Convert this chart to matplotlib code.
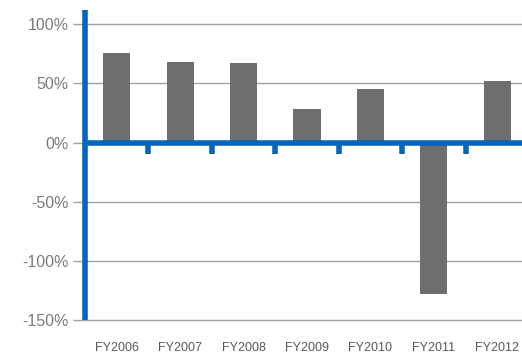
import numpy as np
import matplotlib.pyplot as plt

plt.rcParams['font.family'] = ['Liberation Sans', 'DejaVu Sans']

years = ['FY2006', 'FY2007', 'FY2008', 'FY2009', 'FY2010', 'FY2011', 'FY2012']
growth = [76, 68, 67, 28, 45, -128, 52]
yticks = [100, 50, 0, -50, -100, -150]

blue = '#0565b8'
grey = '#6d6e70'

fig = plt.figure(figsize=(5.22, 3.56), dpi=100)
ax = fig.add_axes([85 / 522, 36 / 356, 444 / 522, 310 / 356])

x = np.arange(len(years))
ax.bar(x, growth, width=0.43, color=grey, zorder=2)

ax.set_xlim(-0.5, len(years) - 0.5)
ax.set_ylim(-150, 112)

ax.set_yticks(yticks)
ax.set_yticklabels([f'{v}%' for v in yticks], color='#7a7a7a', fontsize=11.5)
ax.tick_params(axis='y', length=9, width=1, color='#a0a0a0', pad=3)
for v in yticks:
    ax.axhline(v, color='#a0a0a0', lw=1, zorder=1, clip_on=False)

# category labels along the bottom
ax.set_xticks(x)
ax.set_xticklabels(years, color='#595959', fontsize=9)
ax.tick_params(axis='x', length=0, pad=16)

# blue zero axis with little down ticks between categories
ax.axhline(0, color=blue, lw=4, zorder=3)
for b in x[:-1] + 0.5:
    ax.plot([b, b], [0, -10], color=blue, lw=4, solid_capstyle='butt', zorder=3)

for s in ['top', 'right', 'bottom']:
    ax.spines[s].set_visible(False)
ax.spines['left'].set_color(blue)
ax.spines['left'].set_linewidth(4)
ax.spines['left'].set_capstyle('butt')
ax.spines['left'].set_zorder(4)

plt.savefig('out.png', dpi=100)
